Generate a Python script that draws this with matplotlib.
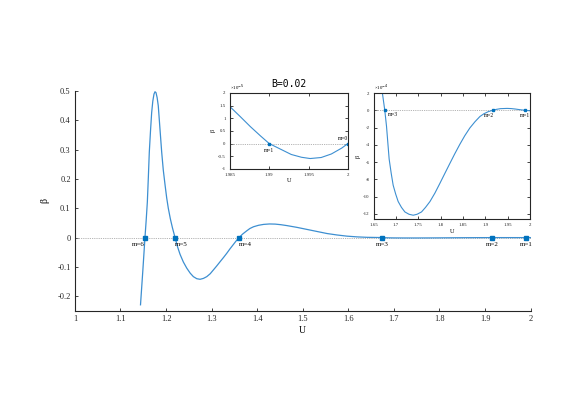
import matplotlib
matplotlib.use("Agg")
import matplotlib.pyplot as plt
from matplotlib.ticker import FuncFormatter

# main curve up to U=1.641, beta vs U
head_u = [1.144, 1.149, 1.1538, 1.1565, 1.159, 1.1612, 1.1633, 1.166, 1.1685,
          1.171, 1.1736, 1.1758, 1.178, 1.1805, 1.183, 1.1865, 1.1905, 1.194,
          1.198, 1.2015, 1.205, 1.2095, 1.214, 1.2198, 1.225, 1.2308, 1.238,
          1.2455, 1.253, 1.26, 1.2675, 1.2747, 1.282, 1.2894, 1.297, 1.304,
          1.311, 1.3187, 1.326, 1.333, 1.3405, 1.348, 1.354, 1.3604, 1.368,
          1.377, 1.384, 1.392, 1.403, 1.414, 1.427, 1.4396, 1.452, 1.465,
          1.487, 1.509, 1.531, 1.553, 1.575, 1.597, 1.619, 1.641]
head_beta = [-0.229, -0.115, 0.0, 0.06, 0.121, 0.205, 0.291, 0.365, 0.426,
             0.465, 0.489, 0.497, 0.494, 0.477, 0.449, 0.375, 0.291, 0.23,
             0.178, 0.135, 0.100, 0.064, 0.034, 0.0, -0.03, -0.057, -0.083,
             -0.104, -0.121, -0.133, -0.14, -0.142, -0.139, -0.133, -0.123,
             -0.11, -0.097, -0.082, -0.068, -0.054, -0.038, -0.023, -0.011,
             0.0, 0.012, 0.023, 0.031, 0.037, 0.042, 0.045, 0.0465, 0.046,
             0.044, 0.041, 0.035, 0.028, 0.021, 0.014, 0.009, 0.005, 0.0025,
             0.001]

# inset 2 (and main tail): U in [1.65, 2], beta in units of 1e-4
ins2_u = [1.666, 1.6687, 1.6746, 1.6785, 1.6815, 1.6844, 1.689, 1.6934, 1.699,
          1.7046, 1.712, 1.7197, 1.729, 1.7384, 1.747, 1.757, 1.766, 1.776,
          1.787, 1.798, 1.809, 1.82, 1.8315, 1.843, 1.854, 1.8654, 1.877,
          1.888, 1.897, 1.9066, 1.9163, 1.925, 1.934, 1.949, 1.958, 1.967,
          1.978, 1.989, 2.0]
ins2_beta_e4 = [4.0, 2.2, 0.0, -1.86, -3.8, -5.65, -7.3, -8.68, -9.7, -10.57,
                -11.25, -11.78, -12.05, -12.16, -12.05, -11.78, -11.25, -10.57,
                -9.6, -8.49, -7.35, -6.22, -5.05, -3.94, -2.95, -2.05, -1.32,
                -0.72, -0.4, -0.16, 0.0, 0.11, 0.19, 0.22, 0.2, 0.15, 0.07,
                0.0, -0.05]

# inset 1: U in [1.985, 2], beta in units of 1e-5
ins1_u = [1.985, 1.9863, 1.9876, 1.9889, 1.990, 1.9915, 1.9928, 1.9941,
          1.9952, 1.9966, 1.9979, 1.9992, 2.0]
ins1_beta_e5 = [1.46, 1.07, 0.67, 0.30, 0.0, -0.23, -0.43, -0.54, -0.59,
                -0.55, -0.41, -0.18, 0.0]

# zero crossings
root_u = [1.1538, 1.2198, 1.3604, 1.6746, 1.9163, 1.990, 2.0]
root_m = [6, 5, 4, 3, 2, 1, 0]

main_u = head_u + ins2_u
main_beta = head_beta + [b * 1e-4 for b in ins2_beta_e4]

LINE = "#3d8fd1"
MARK = "#0072BD"
SERIF = "Liberation Serif"
ZERO = dict(color="#9a9a9a", lw=0.6, ls=(0, (1, 1.2)))

fmt_g = FuncFormatter(lambda v, p: f"{v:g}")


def mlab_axes(ax, fs, box):
    ax.tick_params(direction="in", length=2.5, width=0.6, labelsize=fs,
                   top=box, right=box, colors="#262626", pad=3)
    for lab in ax.get_xticklabels() + ax.get_yticklabels():
        lab.set_family(SERIF)
    for s in ax.spines.values():
        s.set_linewidth(0.8)
        s.set_color("#262626")
    if not box:
        ax.spines["top"].set_visible(False)
        ax.spines["right"].set_visible(False)


fig = plt.figure(figsize=(5.85, 4.13), dpi=100)

# main axes
ax = fig.add_axes([0.128, 0.247, 0.779, 0.533])
ax.axhline(0, **ZERO)
ax.plot(main_u, main_beta, color=LINE, lw=0.9)
ax.plot(root_u[:-1], [0] * 6, "s", color=MARK, ms=2.2)
ax.set_xlim(1, 2)
ax.set_ylim(-0.25, 0.5)
ax.set_xticks([1 + 0.1 * i for i in range(11)])
ax.set_yticks([-0.2, -0.1, 0, 0.1, 0.2, 0.3, 0.4, 0.5])
ax.xaxis.set_major_formatter(fmt_g)
ax.yaxis.set_major_formatter(fmt_g)
mlab_axes(ax, 6, False)
ax.set_xlabel("U", family=SERIF, fontsize=7, labelpad=2)
ax.set_ylabel("β", family=SERIF, fontsize=7, labelpad=6)
aligns = ["right", "left", "left", "center", "center", "center"]
for u, m, ha in zip(root_u[:-1], root_m[:-1], aligns):
    ax.annotate(f"m={m}", (u, 0), xytext=(0, -3), textcoords="offset points",
                ha=ha, va="top", fontsize=5, family=SERIF)

# inset 1
a1 = fig.add_axes([0.393, 0.591, 0.2017, 0.184])
a1.axhline(0, **ZERO)
a1.plot(ins1_u, [b * 1e-5 for b in ins1_beta_e5], color=LINE, lw=0.8)
a1.plot(root_u[-2:], [0, 0], "s", color=MARK, ms=2)
a1.set_xlim(1.985, 2)
a1.set_ylim(-1e-5, 2e-5)
a1.set_xticks([1.985, 1.99, 1.995, 2])
a1.set_yticks([i * 0.5e-5 for i in range(-2, 5)])
a1.xaxis.set_major_formatter(fmt_g)
a1.yaxis.set_major_formatter(FuncFormatter(lambda v, p: f"{v / 1e-5:g}"))
mlab_axes(a1, 3.5, True)
a1.text(0, 1.01, "×10$^{-5}$", transform=a1.transAxes, fontsize=3.5,
        family=SERIF, va="bottom")
a1.set_xlabel("U", family=SERIF, fontsize=4.5, labelpad=1)
a1.set_ylabel("β", family=SERIF, fontsize=4.5, labelpad=2)
a1.set_title("B=0.02", family="DejaVu Sans Mono", fontsize=7, pad=4)
a1.annotate("m=1", (1.990, 0), xytext=(0, -3), textcoords="offset points",
            ha="center", va="top", fontsize=4, family=SERIF)
a1.annotate("m=0", (2.0, 0), xytext=(0, 2), textcoords="offset points",
            ha="right", va="bottom", fontsize=4, family=SERIF)

# inset 2
a2 = fig.add_axes([0.639, 0.4697, 0.2667, 0.305])
a2.axhline(0, **ZERO)
a2.plot(ins2_u, [b * 1e-4 for b in ins2_beta_e4], color=LINE, lw=0.8)
a2.plot(root_u[3:6], [0, 0, 0], "s", color=MARK, ms=2)
a2.set_xlim(1.65, 2)
a2.set_ylim(-12.6e-4, 2e-4)
a2.set_xticks([1.65, 1.7, 1.75, 1.8, 1.85, 1.9, 1.95, 2])
a2.set_yticks([i * 2e-4 for i in range(-6, 2)])
a2.xaxis.set_major_formatter(fmt_g)
a2.yaxis.set_major_formatter(FuncFormatter(lambda v, p: f"{v / 1e-4:g}"))
mlab_axes(a2, 3.5, True)
a2.text(0, 1.005, "×10$^{-4}$", transform=a2.transAxes, fontsize=3.5,
        family=SERIF, va="bottom")
a2.set_xlabel("U", family=SERIF, fontsize=4.5, labelpad=1)
a2.set_ylabel("β", family=SERIF, fontsize=4.5, labelpad=2)
a2.annotate("m=3", (root_u[3], 0), xytext=(2, -1), textcoords="offset points",
            ha="left", va="top", fontsize=4, family=SERIF)
a2.annotate("m=2", (root_u[4], 0), xytext=(1, -2), textcoords="offset points",
            ha="right", va="top", fontsize=4, family=SERIF)
a2.annotate("m=1", (root_u[5], 0), xytext=(0, -2), textcoords="offset points",
            ha="center", va="top", fontsize=4, family=SERIF)

fig.savefig("out.png", dpi=100)
